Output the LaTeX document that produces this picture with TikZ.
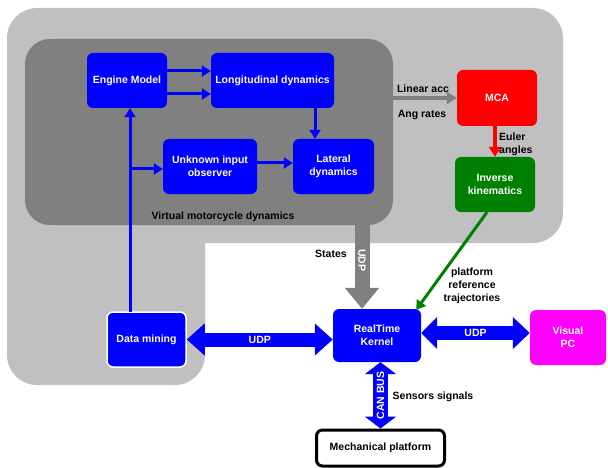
\documentclass[tikz,border=0pt]{standalone}
\usepackage{fontspec}
\setmainfont{Liberation Sans}
\usetikzlibrary{arrows.meta,calc}
\definecolor{lgray}{RGB}{192,192,192}
\definecolor{dgray}{RGB}{128,128,128}
\definecolor{pblue}{RGB}{0,0,255}
\definecolor{pgreen}{RGB}{0,128,0}
\definecolor{pmag}{RGB}{255,0,255}
\tikzset{
  txt/.style={font=\fontsize{10.5}{13}\selectfont\bfseries, align=center, inner sep=0pt},
  box/.style={txt, rounded corners=6pt, text=white, inner sep=0pt},
  bbox/.style={box, fill=pblue},
  thinblue/.style={draw=pblue, line width=3pt, -{Triangle[width=11pt,length=9pt]}},
  fatblue/.style={draw=pblue, line width=14pt, {Triangle[width=31pt,length=18pt]}-{Triangle[width=31pt,length=18pt]}},
  fattxt/.style={align=center, inner sep=0pt, text=white, font=\fontsize{10.5}{12}\selectfont\bfseries},
}
\begin{document}
\begin{tikzpicture}[x=1pt,y=-1pt]
\useasboundingbox (0,0) rectangle (608,468);
% background regions
\fill[lgray, rounded corners=30pt] (7,8) rectangle (563,243);
\fill[lgray, rounded corners=30pt] (7,150) rectangle (205,385);
\node[fill=dgray, rounded corners=25pt, minimum width=368pt, minimum height=186pt, inner sep=0pt] (vmd) at (209,132) {};
\node[txt] (vmdl) at (223,217) {Virtual motorcycle dynamics};
% boxes
\node[bbox, minimum width=80pt, minimum height=55pt] (em) at (127,80.5) {Engine Model};
\node[bbox, minimum width=123pt, minimum height=55pt] (ld) at (272.5,80.5) {Longitudinal dynamics};
\node[bbox, minimum width=94pt, minimum height=55pt] (uo) at (210,166.5) {Unknown input\\observer};
\node[bbox, minimum width=81pt, minimum height=55pt] (ll) at (333.5,166.5) {Lateral\\dynamics};
\node[box, fill=red, minimum width=80pt, minimum height=56pt] (mca) at (497,98) {MCA};
\node[box, fill=pgreen, minimum width=80pt, minimum height=55pt] (ik) at (495,184.5) {Inverse\\kinematics};
\node[bbox, draw=white, line width=1.5pt, minimum width=79pt, minimum height=55pt] (dm) at (146.5,339.5) {Data mining};
\node[bbox, minimum width=88pt, minimum height=53pt] (rt) at (377,335.5) {RealTime\\Kernel};
\node[box, fill=pmag, minimum width=76pt, minimum height=55pt] (vp) at (568,337.5) {Visual\\PC};
\node[box, text=black, draw=black, fill=white, line width=3pt, minimum width=128pt, minimum height=36pt] (mp) at (380.5,448) {Mechanical platform};
% thin blue connectors
\draw[thinblue] ([yshift=9.5pt]em.east) -- ([yshift=9.5pt]em.east -| ld.west);
\draw[thinblue] ([yshift=-13.5pt]em.east) -- ([yshift=-13.5pt]em.east -| ld.west);
\coordinate (c1) at (315,108);
\draw[thinblue] (c1) -- (c1 |- ll.north);
\draw[thinblue] ([yshift=3.5pt]uo.east) -- ([yshift=3.5pt]uo.east -| ll.west);
\coordinate (b1) at (130,312);
\coordinate (b2) at (130,169);
\draw[thinblue] (b1) -- (b1 |- em.south);
\draw[thinblue] (b2) -- (b2 -| uo.west);
% gray to MCA
\draw[dgray, line width=4pt, -{Triangle[width=12pt,length=10pt]}] (vmd.east |- mca.west) -- (mca.west);
\node[txt] (la) at (423,89) {Linear acc};
\node[txt] (ar) at (422,115) {Ang rates};
% red
\draw[red, line width=4pt, -{Triangle[width=12pt,length=10pt]}] ([xshift=-2pt]mca.south) -- ([xshift=-2pt]mca.south |- ik.north);
\node[txt, anchor=west, align=left] (eu) at (499,144.5) {Euler\\angles};
% green
\draw[pgreen, line width=3pt, -{Triangle[width=11pt,length=9pt]}] ([xshift=-8pt]ik.south) -- ([xshift=-5pt,yshift=-1pt]rt.north east);
\node[txt] (prt) at (472,286) {platform\\reference\\trajectories};
% gray fat States arrow
\coordinate (s1) at (362,225);
\draw[dgray, line width=15pt, -{Triangle[width=33pt,length=21pt]}] (s1) -- (s1 |- rt.north) node[pos=0.42, fattxt, rotate=-90] {UDP};
\node[txt] (st) at (331,254) {States};
% fat blue double arrows
\draw[fatblue] (dm.east) -- (dm.east -| rt.west) node[midway, fattxt] {UDP};
\draw[fatblue, {Triangle[width=31pt,length=16pt]}-{Triangle[width=31pt,length=17pt]}] ([yshift=2.5pt]rt.east) -- ([yshift=2.5pt]rt.east -| vp.west) node[midway, fattxt] {UDP};
\draw[draw=pblue, line width=15pt, {Triangle[width=31pt,length=12pt]}-{Triangle[width=31pt,length=12pt]}] ([xshift=3.5pt]rt.south) -- ([xshift=3.5pt]rt.south |- mp.north) node[midway, fattxt, rotate=90] {CAN BUS};
\node[txt] (ss) at (433,397) {Sensors signals};
\end{tikzpicture}
\end{document}
